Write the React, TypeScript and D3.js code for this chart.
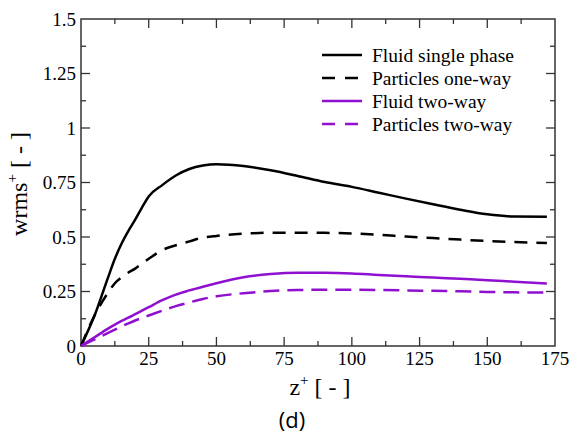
import * as d3 from "d3";
import React, { useRef, useEffect } from "react";

const W = 573;
const H = 444;
const margin = { top: 19, right: 18, bottom: 98, left: 81 };
const width = W - margin.left - margin.right;
const height = H - margin.top - margin.bottom;

const purple = "#9010d0";

// z+ positions where the curves were read
const zPlus = [0, 5, 10, 12.5, 15, 17.5, 20, 22.5, 25, 30, 35, 40, 45, 50, 60, 70, 80, 90, 100, 110, 120, 130, 140, 150, 160, 172];

const fluidSingle = [0, 0.14, 0.315, 0.4, 0.47, 0.528, 0.58, 0.635, 0.686, 0.738, 0.782, 0.812, 0.828, 0.834, 0.826, 0.806, 0.78, 0.752, 0.73, 0.703, 0.676, 0.65, 0.625, 0.604, 0.594, 0.593];
const particlesOneWay = [0, 0.14, 0.245, 0.288, 0.315, 0.337, 0.355, 0.378, 0.4, 0.44, 0.462, 0.48, 0.497, 0.505, 0.515, 0.52, 0.52, 0.519, 0.516, 0.51, 0.502, 0.495, 0.488, 0.482, 0.477, 0.473];
const fluidTwoWay = [0, 0.04, 0.08, 0.098, 0.115, 0.13, 0.146, 0.162, 0.178, 0.21, 0.236, 0.255, 0.272, 0.288, 0.315, 0.33, 0.336, 0.336, 0.333, 0.326, 0.32, 0.314, 0.308, 0.302, 0.295, 0.287];
const particlesTwoWay = [0, 0.03, 0.06, 0.075, 0.09, 0.104, 0.117, 0.129, 0.14, 0.162, 0.183, 0.2, 0.216, 0.228, 0.242, 0.252, 0.257, 0.258, 0.258, 0.257, 0.255, 0.253, 0.251, 0.248, 0.246, 0.245];

const seriesNames = ["Fluid single phase", "Particles one-way", "Fluid two-way", "Particles two-way"];
const seriesColors = ["#000", "#000", purple, purple];
const seriesDash = [null, "13,9", null, "16,8"];
const seriesValues = [fluidSingle, particlesOneWay, fluidTwoWay, particlesTwoWay];

const xTicks = [0, 25, 50, 75, 100, 125, 150, 175];
const yTicks = [0, 0.25, 0.5, 0.75, 1, 1.25, 1.5];

function App() {
  const ref = useRef<SVGSVGElement>(null);

  useEffect(() => {
    const svg = d3.select(ref.current);
    svg.selectAll("*").remove();

    const x = d3.scaleLinear().domain([0, 175]).range([0, width]);
    const y = d3.scaleLinear().domain([0, 1.5]).range([height, 0]);

    const g = svg.append("g").attr("transform", `translate(${margin.left},${margin.top})`);
    const frameColor = "#333";

    // minor + major ticks on all four sides, pointing inward
    const xMinor = d3.range(12.5, 175, 25);
    const yMinor = d3.range(0.125, 1.5, 0.25);
    const tickG = g.append("g").attr("stroke", frameColor).attr("stroke-width", 1.3);
    const addX = (vals: number[], len: number) => {
      vals.forEach((v) => {
        tickG.append("line").attr("x1", x(v)).attr("x2", x(v)).attr("y1", height).attr("y2", height - len);
        tickG.append("line").attr("x1", x(v)).attr("x2", x(v)).attr("y1", 0).attr("y2", len);
      });
    };
    const addY = (vals: number[], len: number) => {
      vals.forEach((v) => {
        tickG.append("line").attr("y1", y(v)).attr("y2", y(v)).attr("x1", 0).attr("x2", len);
        tickG.append("line").attr("y1", y(v)).attr("y2", y(v)).attr("x1", width).attr("x2", width - len);
      });
    };
    addX(xTicks.slice(1, -1), 9);
    addX(xMinor, 5);
    addY(yTicks.slice(1, -1), 9);
    addY(yMinor, 5);

    g.append("rect")
      .attr("width", width)
      .attr("height", height)
      .attr("fill", "none")
      .attr("stroke", frameColor)
      .attr("stroke-width", 1.5);

    const font = "'Liberation Serif', 'Times New Roman', serif";

    g.selectAll(".xt")
      .data(xTicks)
      .enter()
      .append("text")
      .attr("x", (d) => x(d))
      .attr("y", height + 19)
      .attr("text-anchor", "middle")
      .attr("font-family", font)
      .attr("font-size", 19)
      .text((d) => String(d));

    g.selectAll(".yt")
      .data(yTicks)
      .enter()
      .append("text")
      .attr("x", -5)
      .attr("y", (d) => y(d) + 6.5)
      .attr("text-anchor", "end")
      .attr("font-family", font)
      .attr("font-size", 19)
      .text((d) => String(d));

    // curves
    seriesValues.forEach((vals, i) => {
      const line = d3
        .line<number>()
        .x((_, j) => x(zPlus[j]))
        .y((d) => y(d))
        .curve(d3.curveMonotoneX);
      const p = g
        .append("path")
        .attr("d", line(vals))
        .attr("fill", "none")
        .attr("stroke", seriesColors[i])
        .attr("stroke-width", 2.5);
      if (seriesDash[i]) p.attr("stroke-dasharray", seriesDash[i]);
    });

    // legend
    const leg = svg.append("g");
    seriesNames.forEach((name, i) => {
      const cy = 55 + i * 23;
      const l = leg
        .append("line")
        .attr("x1", 322)
        .attr("x2", 362)
        .attr("y1", cy)
        .attr("y2", cy)
        .attr("stroke", seriesColors[i])
        .attr("stroke-width", 2.5);
      if (seriesDash[i]) l.attr("stroke-dasharray", "13,10");
      leg
        .append("text")
        .attr("x", 372)
        .attr("y", cy + 6.5)
        .attr("font-family", font)
        .attr("font-size", 19.5)
        .text(name);
    });

    // axis titles
    const xl = svg
      .append("text")
      .attr("x", 320)
      .attr("y", 395)
      .attr("text-anchor", "middle")
      .attr("font-family", font)
      .attr("font-size", 24);
    xl.append("tspan").text("z");
    xl.append("tspan").attr("dy", -10).attr("font-size", 15).text("+");
    xl.append("tspan").attr("dy", 10).text(" [ - ]");

    const yl = svg
      .append("text")
      .attr("transform", `translate(27,184) rotate(-90)`)
      .attr("text-anchor", "middle")
      .attr("font-family", font)
      .attr("font-size", 24);
    yl.append("tspan").text("wrms");
    yl.append("tspan").attr("dy", -10).attr("font-size", 15).text("+");
    yl.append("tspan").attr("dy", 10).text(" [ - ]");

    svg
      .append("text")
      .attr("x", 292)
      .attr("y", 428)
      .attr("text-anchor", "middle")
      .attr("font-family", "'Open Sans', 'DejaVu Sans', sans-serif")
      .attr("font-size", 22)
      .text("(d)");
  }, []);

  return (
    <svg
      ref={ref}
      width={W}
      height={H}
      style={{ position: "absolute", left: 0, top: 0, background: "#fff" }}
    ></svg>
  );
}

export default App;
